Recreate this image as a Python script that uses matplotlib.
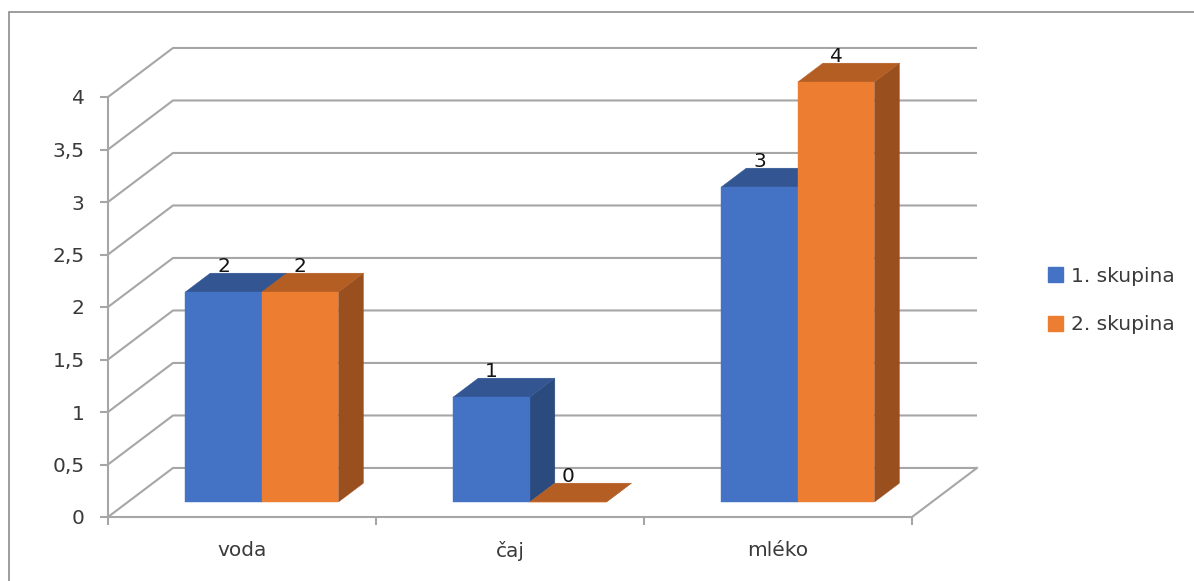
import numpy as np
import matplotlib
matplotlib.use('Agg')
import matplotlib.pyplot as plt
from matplotlib.patches import Patch, Rectangle
from matplotlib.ticker import FuncFormatter

kategorie = ['voda', 'čaj', 'mléko']
skupina_1 = [2, 1, 3]
skupina_2 = [2, 0, 4]
nazvy = ['1. skupina', '2. skupina']
y_ticks = np.arange(0, 4.01, 0.5)

plt.rcParams['font.family'] = ['DejaVu Sans']
FS = 14.5

# barvy: celni stena, vrch, bok
barvy = [('#4472c4', '#335693', '#2b4a7e'),
         ('#ed7d31', '#b45e24', '#9a4f1f')]
mrizka = '#a6a6a6'

# sikma projekce hloubky (v jednotkach os)
DX = 0.2425
DY = 0.467
f0, f1 = 0.306, 0.69          # predni a zadni hrana sloupce v hloubce
sirka = 1 / 3.5               # sirka jednoho sloupce


def proj(x, y, f):
    return x + f * DX, y + f * DY


fig = plt.figure(figsize=(11.94, 5.81), dpi=100)
ax = fig.add_axes([108 / 1194, 64 / 581, 804 / 1194, 420 / 581])
ax.set_xlim(0, 3)
ax.set_ylim(0, 4)

# zadni stena, bocni stena a podlaha
for v in y_ticks:
    ax.plot([0, DX, 3 + DX], [v, v + DY, v + DY], color=mrizka, lw=1.5,
            clip_on=False, zorder=1, solid_capstyle='butt')
ax.plot([3, 3 + DX], [0, DY], color=mrizka, lw=1.5, clip_on=False, zorder=1)

# sloupce
for i in range(len(kategorie)):
    for j, hodnoty in enumerate([skupina_1, skupina_2]):
        v = hodnoty[i]
        x0 = i + 0.5 - sirka + j * sirka
        x1 = x0 + sirka
        c_front, c_top, c_side = barvy[j]
        z = 3 + i * 2 + j * 0.5
        top = [proj(x0, v, f0), proj(x1, v, f0), proj(x1, v, f1), proj(x0, v, f1)]
        side = [proj(x1, 0, f0), proj(x1, 0, f1), proj(x1, v, f1), proj(x1, v, f0)]
        front = [proj(x0, 0, f0), proj(x1, 0, f0), proj(x1, v, f0), proj(x0, v, f0)]
        for poly, c in [(side, c_side), (top, c_top), (front, c_front)]:
            xs, ys = zip(*poly)
            ax.fill(xs, ys, color=c, lw=0.3, ec=c, clip_on=False, zorder=z)
        xc = (x0 + x1) / 2 + f0 * DX
        ax.text(xc, v + 0.39, str(v), ha='center', va='center', fontsize=FS,
                color='#141414', zorder=10)

# osy
for s in ['top', 'right']:
    ax.spines[s].set_visible(False)
for s in ['left', 'bottom']:
    ax.spines[s].set_color(mrizka)
    ax.spines[s].set_linewidth(1.5)
    ax.spines[s].set_zorder(2)

ax.set_yticks(y_ticks)
ax.yaxis.set_major_formatter(FuncFormatter(lambda v, p: ('%g' % v).replace('.', ',')))
ax.tick_params(axis='y', length=5.8, width=1.5, color=mrizka, pad=11,
               labelsize=FS, labelcolor='#3a3a3a')

ax.set_xticks([0.5, 1.5, 2.5])
ax.set_xticklabels(kategorie)
ax.set_xticks([0, 1, 2, 3], minor=True)
ax.tick_params(axis='x', which='major', length=0, pad=17, labelsize=FS,
               labelcolor='#3a3a3a')
ax.tick_params(axis='x', which='minor', length=5.8, width=1.5, color=mrizka)
ax.patch.set_visible(False)

handles = [Patch(color=barvy[0][0]), Patch(color=barvy[1][0])]
fig.legend(handles, nazvy, loc='center left', bbox_to_anchor=(1048 / 1194, 0.4828),
           frameon=False, fontsize=FS, handlelength=0.75, handleheight=0.78,
           handletextpad=0.4, labelspacing=1.48, borderpad=0, borderaxespad=0,
           labelcolor='#3a3a3a')

# ramecek grafu
fig.add_artist(Rectangle((8.5 / 1194, -0.1), 2, (581 - 11.5) / 581 + 0.1,
                         transform=fig.transFigure, fill=False, ec='#8c8c8c', lw=1.2))

fig.savefig('out.png', dpi=100)
